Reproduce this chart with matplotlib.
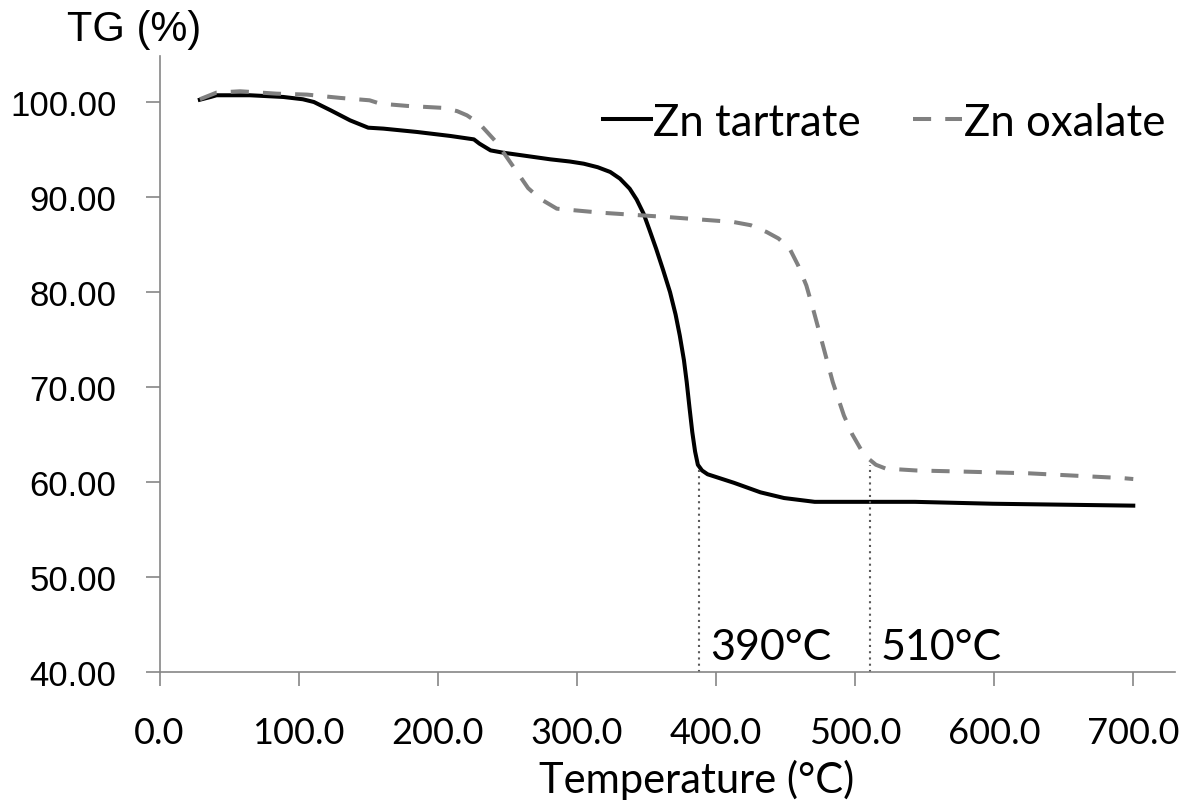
import matplotlib
matplotlib.use("Agg")
import matplotlib.pyplot as plt

# Zn tartrate TG curve
temp_tart = [29, 37, 41, 65, 89, 103, 111, 123, 137, 150, 161, 185, 209, 226, 230, 238, 247,
             281, 295, 305, 315, 324, 331, 338, 343, 348, 352, 357, 362, 367, 371, 374, 377,
             379, 381, 383, 385, 387, 390, 394, 413, 432, 449, 471, 543, 599, 700]
tg_tart = [100.2, 100.5, 100.67, 100.67, 100.49, 100.25, 99.96, 99.09, 98.03, 97.26, 97.16,
           96.81, 96.39, 96.03, 95.58, 94.87, 94.63, 93.93, 93.7, 93.47, 93.1, 92.6, 91.9,
           90.84, 89.7, 88.21, 86.6, 84.53, 82.3, 79.96, 77.6, 75.4, 72.8, 70.49, 67.8, 65.23,
           63.2, 61.8, 61.2, 60.8, 59.9, 58.9, 58.3, 57.9, 57.9, 57.7, 57.5]

# Zn oxalate TG curve
temp_oxa = [29, 41, 58, 84, 106, 130, 151, 158.5, 178, 204, 214, 221, 230, 242, 257, 265,
            273.5, 285.6, 317, 365, 412.5, 425, 436.5, 445, 453, 459, 465, 470, 475, 484,
            492, 498, 504, 510, 515, 522, 544, 573, 625, 692, 700]
tg_oxa = [100.25, 100.95, 101.09, 100.84, 100.74, 100.39, 100.14, 99.79, 99.55, 99.34, 99.0,
          98.56, 97.68, 95.76, 92.6, 90.9, 89.79, 88.74, 88.32, 87.86, 87.34, 87.0, 86.28,
          85.6, 84.53, 82.8, 80.66, 78.1, 75.4, 70.49, 66.98, 65.0, 63.47, 62.4, 61.8, 61.4,
          61.2, 61.1, 60.9, 60.4, 60.3]

# marked end temperatures: (x position, top of the dotted line, label)
marks_x = [388, 510.5]
marks_top = [61.4, 61.8]
marks_lab = ["390°C", "510°C"]

xticks = [0, 100, 200, 300, 400, 500, 600, 700]
yticks = [40, 50, 60, 70, 80, 90, 100]

axcol = "#868686"

fig = plt.figure(figsize=(11.91, 8.12), dpi=100)
ax = fig.add_axes([159.5 / 1191, 1 - 673 / 812, (1175 - 159.5) / 1191, (673 - 57) / 812])

ax.plot(temp_tart, tg_tart, color="black", lw=2.9, label="Zn tartrate", solid_joinstyle="round")
ax.plot(temp_oxa, tg_oxa, color="#808080", lw=2.9, dashes=(4.5, 3.5), label="Zn oxalate")

for x, top, lab in zip(marks_x, marks_top, marks_lab):
    ax.plot([x, x], [40, top], color="#5a5a5a", lw=1.5, dashes=(1, 2))
    ax.text(x + 8, 41.4, lab, family="Lato", fontsize=31, ha="left", va="baseline")

ax.set_xlim(0, 730)
ax.set_ylim(40, 104.8)

ax.set_xticks(xticks)
ax.set_xticklabels([f"{t:.1f}" for t in xticks], family="Lato", fontsize=26)
ax.set_yticks(yticks)
ax.set_yticklabels([f"{t:.2f}" for t in yticks], family="Liberation Sans", fontsize=25)

for s in ["top", "right"]:
    ax.spines[s].set_visible(False)
for s in ["left", "bottom"]:
    ax.spines[s].set_color(axcol)
    ax.spines[s].set_linewidth(1.2)
ax.tick_params(axis="both", direction="out", length=10, width=1.2, color=axcol)
ax.tick_params(axis="x", pad=22)
ax.tick_params(axis="y", pad=21)

fig.text(134 / 1191, 1 - 30 / 812, "TG (%)", family="Liberation Sans", fontsize=30,
         ha="center", va="center")
fig.text(697 / 1191, 1 - 793 / 812, "Temperature (°C)", family="Lato", fontsize=30,
         ha="center", va="baseline")

ax.legend(loc="center left", bbox_to_anchor=(603 / 1191, 1 - 123 / 812),
          bbox_transform=fig.transFigure, ncol=2, frameon=False,
          prop={"family": "Lato", "size": 31.5}, handlelength=1.1, handletextpad=0.05,
          columnspacing=1.2, borderpad=0, borderaxespad=0)

fig.savefig("out.png", dpi=100)
